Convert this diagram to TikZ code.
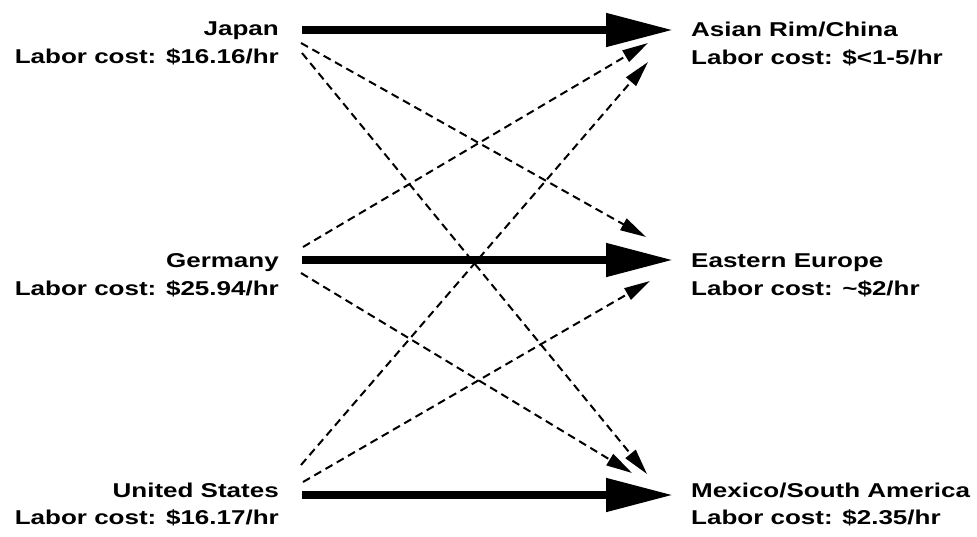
\documentclass[tikz,border=0pt]{standalone}
\usepackage{fontspec}
\setmainfont{Liberation Sans}[FakeStretch=1.3]
\usetikzlibrary{arrows.meta}
\begin{document}
\begin{tikzpicture}[x=1pt,y=-1pt,
  lbl/.style={font=\fontsize{20}{24}\selectfont\bfseries, inner sep=0pt},
  lft/.style={lbl, anchor=base east},
  rgt/.style={lbl, anchor=base west},
  thick arrow/.style={line width=8pt, -{Triangle[length=67pt,width=32pt]}},
  dash arrow/.style={line width=2pt, dash pattern=on 8pt off 5pt, -{Triangle[length=26pt,width=13pt]}}]
\useasboundingbox (0,0) rectangle (977,536);
% left labels
\node[lft] (jp)   at (279,35)  {Japan};
\node[lft] (jpc)  at (279,63)  {Labor cost: \$16.16/hr};
\node[lft] (de)   at (279,267) {Germany};
\node[lft] (dec)  at (279,295) {Labor cost: \$25.94/hr};
\node[lft] (us)   at (279,497) {United States};
\node[lft] (usc)  at (279,524) {Labor cost: \$16.17/hr};
% right labels
\node[rgt] (as)   at (691,36)  {Asian Rim/China};
\node[rgt] (asc)  at (691,64)  {Labor cost: \$<1-5/hr};
\node[rgt] (ee)   at (691,267) {Eastern Europe};
\node[rgt] (eec)  at (691,295) {Labor cost: \textasciitilde\$2/hr};
\node[rgt] (mx)   at (691,497) {Mexico/South America};
\node[rgt] (mxc)  at (691,524) {Labor cost: \$2.35/hr};
% endpoints
\coordinate (jpA) at (302,30);  \coordinate (asA) at (673,30);
\coordinate (deA) at (302,260); \coordinate (eeA) at (673,260);
\coordinate (usA) at (302,495); \coordinate (mxA) at (673,495);
\coordinate (jp1) at (301,43);  \coordinate (ee1) at (646,237);
\coordinate (jp2) at (302,53);  \coordinate (mx1) at (647,474);
\coordinate (de1) at (303,247); \coordinate (as1) at (648,43);
\coordinate (de2) at (301,273); \coordinate (mx2) at (632,473);
\coordinate (us1) at (301,465); \coordinate (as2) at (648,62);
\coordinate (us2) at (303,482); \coordinate (ee2) at (650,281);
% thick arrows
\draw[thick arrow] (jpA) -- (asA);
\draw[thick arrow] (deA) -- (eeA);
\draw[thick arrow] (usA) -- (mxA);
% dashed arrows
\draw[dash arrow] (jp1) -- (ee1);
\draw[dash arrow] (jp2) -- (mx1);
\draw[dash arrow] (de1) -- (as1);
\draw[dash arrow] (de2) -- (mx2);
\draw[dash arrow] (us1) -- (as2);
\draw[dash arrow] (us2) -- (ee2);
\end{tikzpicture}
\end{document}
